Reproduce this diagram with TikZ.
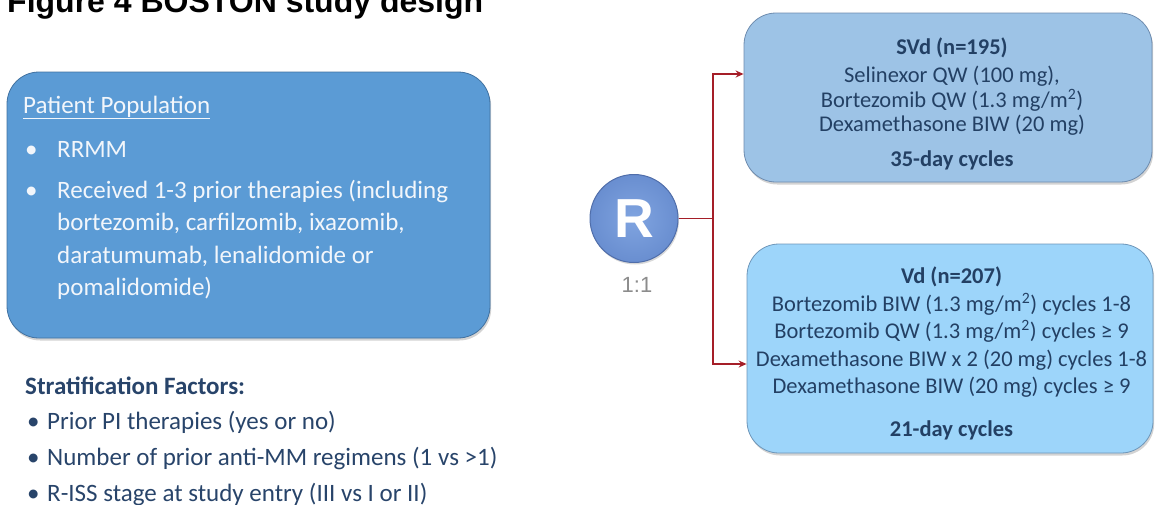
\documentclass[tikz,border=0pt]{standalone}
\usepackage{fontspec}
\setmainfont{Carlito}
\newfontfamily\titlefont{Liberation Sans}
\usetikzlibrary{arrows.meta,shadows}

\definecolor{popfill}{RGB}{91,155,213}
\definecolor{popedge}{RGB}{65,113,160}
\definecolor{svdfill}{RGB}{157,195,230}
\definecolor{svdedge}{RGB}{110,140,175}
\definecolor{vdfill}{RGB}{157,213,250}
\definecolor{vdedge}{RGB}{110,150,185}
\definecolor{armtext}{RGB}{35,64,100}
\definecolor{strattext}{RGB}{40,68,106}
\definecolor{poptext}{RGB}{242,246,251}
\definecolor{linkred}{RGB}{165,30,40}
\definecolor{randfill}{RGB}{105,142,208}
\definecolor{randedge}{RGB}{80,110,170}
\definecolor{ratiogray}{RGB}{140,140,140}

\tikzset{
  panel/.style={rounded corners=32pt, line width=0.8pt,
    drop shadow={shadow xshift=1.2pt, shadow yshift=-2.5pt, opacity=0.35}},
  poptxt/.style={anchor=base west, inner sep=0pt, text=poptext,
    font=\fontsize{25}{30}\selectfont},
  armtxt/.style={anchor=base, inner sep=0pt, text=armtext,
    font=\fontsize{22.5}{27}\selectfont},
  armhead/.style={armtxt, font=\fontsize{22.5}{27}\selectfont\bfseries},
  strtxt/.style={anchor=base west, inner sep=0pt, text=strattext,
    font=\fontsize{25}{30}\selectfont},
  link/.style={draw=linkred, line width=1.8pt},
  linkarrow/.style={link, -{Stealth[length=8pt,width=7pt]}},
}

\begin{document}
\begin{tikzpicture}[x=1pt,y=-1pt]
\useasboundingbox (0,0) rectangle (1155,504);

% heading
\node[anchor=base west, inner sep=0pt, font=\titlefont\bfseries\fontsize{32}{36}\selectfont]
  (title) at (7,12) {Figure 4 BOSTON study design};

% patient population panel
\node[panel, fill=popfill, draw=popedge, minimum width=483pt, minimum height=266pt]
  (pop) at (248.5,205) {};
\node[poptxt] (popt) at (23,113) {\underline{Patient Population}};
\node[poptxt] (b1) at (25,157) {•};
\node[poptxt] (p1) at (57,157) {RRMM};
\node[poptxt] (b2) at (25,198) {•};
\node[poptxt] (p2a) at (57,198) {Received 1-3 prior therapies (including};
\node[poptxt] (p2b) at (57,230) {bortezomib, carfilzomib, ixazomib,};
\node[poptxt] (p2c) at (57,263) {daratumumab, lenalidomide or};
\node[poptxt] (p2d) at (57,295) {pomalidomide)};

% randomisation
\node[circle, minimum size=88pt, inner sep=0pt, draw=randedge, line width=1pt,
  inner color={rgb,255:red,128;green,164;blue,224}, outer color=randfill,
  drop shadow={shadow xshift=1pt, shadow yshift=-2pt, opacity=0.3},
  text=white, font=\titlefont\bfseries\fontsize{55}{60}\selectfont]
  (R) at (634,218.5) {R};
\node[anchor=base, inner sep=0pt, text=ratiogray, font=\titlefont\fontsize{22}{26}\selectfont]
  (ratio) at (637,292) {1:1};

% SVd arm
\node[panel, fill=svdfill, draw=svdedge, minimum width=408pt, minimum height=169pt]
  (svd) at (948,97.5) {};
\node[armhead] (s0) at (952,54) {SVd (n=195)};
\node[armtxt] (s1) at (952,82) {Selinexor QW (100 mg),};
\node[armtxt] (s2) at (952,107) {Bortezomib QW (1.3 mg/m\textsuperscript{2})};
\node[armtxt] (s3) at (952,131) {Dexamethasone BIW (20 mg)};
\node[armhead] (s4) at (952,166) {35-day cycles};

% Vd arm
\node[panel, fill=vdfill, draw=vdedge, minimum width=406pt, minimum height=209pt]
  (vd) at (950,348.5) {};
\node[armhead] (v0) at (951.5,283) {Vd (n=207)};
\node[armtxt] (v1) at (951.5,311) {Bortezomib BIW (1.3 mg/m\textsuperscript{2}) cycles 1-8};
\node[armtxt] (v2) at (951.5,338) {Bortezomib QW (1.3 mg/m\textsuperscript{2}) cycles ≥ 9};
\node[armtxt] (v3) at (951.5,366) {Dexamethasone BIW x 2 (20 mg) cycles 1-8};
\node[armtxt] (v4) at (951.5,393) {Dexamethasone BIW (20 mg) cycles ≥ 9};
\node[armhead] (v5) at (951.5,436) {21-day cycles};

% connectors
\coordinate (split) at (713,218.5);
\draw[link] (R.east) -- (split);
\draw[linkarrow] (split) |- ([yshift=23.5pt]svd.west);
\draw[linkarrow] (split) |- ([yshift=-15.5pt]vd.west);

% stratification factors
\node[strtxt, font=\fontsize{25}{30}\selectfont\bfseries] (sh) at (25,394) {Stratification Factors:};
\node[strtxt] (sb1) at (27,429) {•};
\node[strtxt] (sf1) at (47,429) {Prior PI therapies (yes or no)};
\node[strtxt] (sb2) at (27,465) {•};
\node[strtxt] (sf2) at (47,465) {Number of prior anti-MM regimens (1 vs >1)};
\node[strtxt] (sb3) at (27,501) {•};
\node[strtxt] (sf3) at (47,501) {R-ISS stage at study entry (III vs I or II)};
\end{tikzpicture}
\end{document}
